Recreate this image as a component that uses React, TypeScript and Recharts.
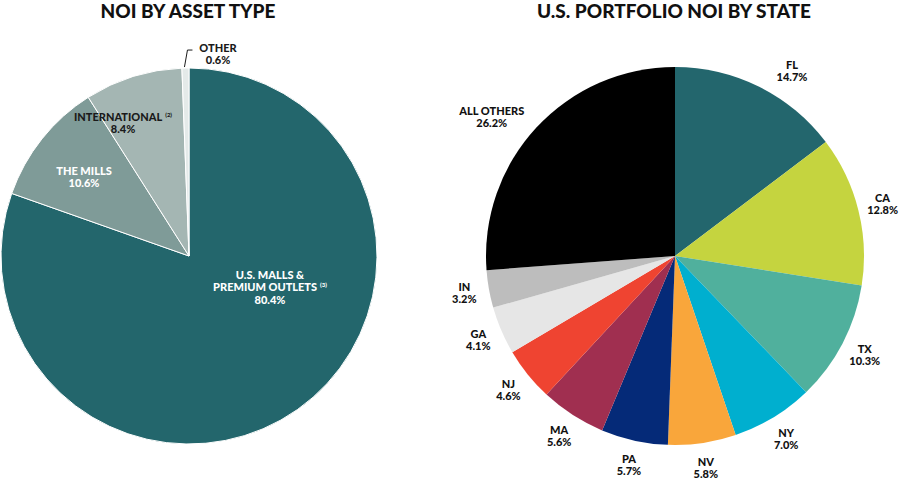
import React from 'react';
import { PieChart, Pie, Cell } from 'recharts';

const assetNames = ['U.S. MALLS &|PREMIUM OUTLETS', 'THE MILLS', 'INTERNATIONAL', 'OTHER'];
const assetNotes = ['(3)', '', '(2)', ''];
const assetValues = [80.4, 10.6, 8.4, 0.6];
const assetColors = ['#23666C', '#7F9B98', '#A4B6B3', '#E4EAE9'];
const assetTextColors = ['#FFFFFF', '#FFFFFF', '#1A1A1A', '#1A1A1A'];

const stateNames = ['FL', 'CA', 'TX', 'NY', 'NV', 'PA', 'MA', 'NJ', 'GA', 'IN', 'ALL OTHERS'];
const stateValues = [14.7, 12.8, 10.3, 7.0, 5.8, 5.7, 5.6, 4.6, 4.1, 3.2, 26.2];
const stateColors = ['#23666D', '#C5D43F', '#50B09D', '#00AFCF', '#F9A63B', '#052A78', '#A02F50', '#EF4431', '#E6E6E6', '#BDBDBD', '#000000'];

const assetData = assetNames.map((n, i) => ({ name: n, value: assetValues[i], note: assetNotes[i] }));
const stateData = stateNames.map((n, i) => ({ name: n, value: stateValues[i] }));

// label placement (offset of label block centre from pie centre) for the left pie
const assetLabelOffsets = [
  { dx: 81, dy: 31 },
  { dx: -105, dy: -79 },
  { dx: -66, dy: -133 },
  { dx: 29, dy: -202 },
];

// label placement overrides for the right pie (clockwise degrees from top, distance from centre)
const stateLabelOverrides: Record<number, { angle: number; dist: number }> = {
  0: { angle: 32.3, dist: 219 },
  10: { angle: 307.2, dist: 230 },
};

const FONT = 'Lato, "Open Sans", sans-serif';
const RAD = Math.PI / 180;

const fmt = (v: number) => v.toFixed(1) + '%';

const AssetLabel = (props: any) => {
  const { cx, cy, index, outerRadius, midAngle } = props;
  const d = assetData[index];
  const off = assetLabelOffsets[index];
  const x = cx + off.dx;
  const y = cy + off.dy;
  const fill = assetTextColors[index];
  const lines = d.name.split('|');
  const lh = 12.5;
  const total = lines.length + 1;
  const firstBase = y - ((total - 1) * lh) / 2 + 4;
  const els: any[] = [];
  lines.forEach((ln: string, k: number) => {
    const isLast = k === lines.length - 1;
    els.push(
      <text key={'l' + k} x={x} y={firstBase + k * lh} textAnchor="middle" fill={fill}
        style={{ fontFamily: FONT, fontWeight: 900, fontSize: 11 }}>
        {ln}
        {isLast && d.note ? <tspan dx={3} dy={-4} style={{ fontSize: 6 }}>{d.note}</tspan> : null}
      </text>
    );
  });
  els.push(
    <text key="v" x={x} y={firstBase + lines.length * lh} textAnchor="middle" fill={fill}
      style={{ fontFamily: FONT, fontWeight: 900, fontSize: 11 }}>
      {fmt(d.value)}
    </text>
  );
  if (index === 3) {
    const px = cx + outerRadius * Math.cos(-midAngle * RAD);
    const py = cy + outerRadius * Math.sin(-midAngle * RAD);
    els.push(
      <polyline key="ln" points={`${px - 1},${py - 1} ${px + 2},${py - 18} ${px + 7},${py - 18}`}
        fill="none" stroke="#1A1A1A" strokeWidth={1} />
    );
  }
  return <g>{els}</g>;
};

const StateLabel = (props: any) => {
  const { cx, cy, index, outerRadius, midAngle } = props;
  const d = stateData[index];
  const ov = stateLabelOverrides[index];
  let x: number;
  let y: number;
  if (ov) {
    x = cx + ov.dist * Math.sin(ov.angle * RAD);
    y = cy - ov.dist * Math.cos(ov.angle * RAD);
  } else {
    const r = outerRadius + 25;
    x = cx + r * Math.cos(-midAngle * RAD);
    y = cy + r * Math.sin(-midAngle * RAD);
  }
  return (
    <g>
      <text x={x} y={y - 2} textAnchor="middle" fill="#111"
        style={{ fontFamily: FONT, fontWeight: 900, fontSize: 11 }}>{d.name}</text>
      <text x={x} y={y + 10} textAnchor="middle" fill="#111"
        style={{ fontFamily: FONT, fontWeight: 900, fontSize: 11 }}>{fmt(d.value)}</text>
    </g>
  );
};

const titleStyle: React.CSSProperties = {
  position: 'absolute',
  top: 0,
  fontFamily: FONT,
  fontWeight: 900,
  fontSize: 19,
  color: '#111',
  whiteSpace: 'nowrap',
  transform: 'translateX(-50%)',
  lineHeight: '22px',
};

export default function App() {
  return (
    <div style={{ position: 'absolute', left: 0, top: 0, width: 904, height: 479, background: '#fff' }}>
      <div style={{ ...titleStyle, left: 188 }}>NOI BY ASSET TYPE</div>
      <div style={{ ...titleStyle, left: 674 }}>U.S. PORTFOLIO NOI BY STATE</div>
      <div style={{ position: 'absolute', left: 0, top: 0 }}>
        <PieChart width={904} height={479} margin={{ top: 0, right: 0, bottom: 0, left: 0 }}>
          <Pie data={assetData} dataKey="value" nameKey="name" cx={189} cy={256} outerRadius={188}
            startAngle={90} endAngle={-270} isAnimationActive={false} stroke="#FFFFFF" strokeWidth={1}
            label={AssetLabel} labelLine={false}>
            {assetData.map((d, i) => <Cell key={i} fill={assetColors[i]} />)}
          </Pie>
          <Pie data={stateData} dataKey="value" nameKey="name" cx={675} cy={256} outerRadius={189}
            startAngle={90} endAngle={-270} isAnimationActive={false} stroke="none"
            label={StateLabel} labelLine={false}>
            {stateData.map((d, i) => <Cell key={i} fill={stateColors[i]} />)}
          </Pie>
        </PieChart>
      </div>
    </div>
  );
}
